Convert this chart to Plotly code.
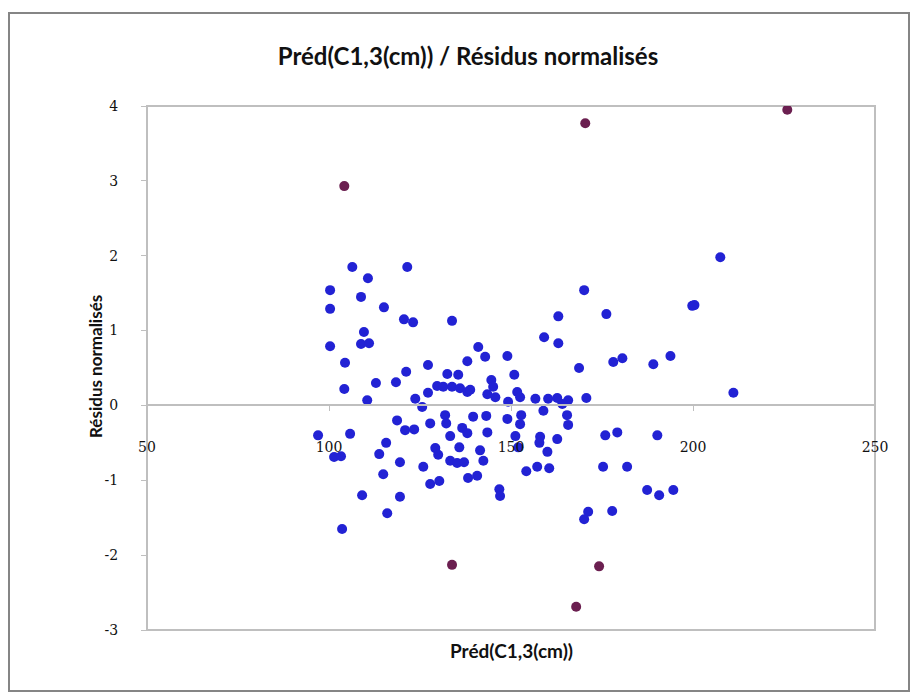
import plotly.graph_objects as go

# Predicted values (cm) and standardized residuals
pred_main = [
    100.3, 100.3, 100.3, 106.4, 104.4, 104.2, 97.0, 105.8, 101.4, 103.3, 103.6,
    110.7, 108.8, 115.1, 109.6, 108.8, 111.0, 112.9, 110.5, 115.7, 113.8, 114.9, 109.1, 116.0,
    121.5, 120.6, 123.1, 118.4, 121.2, 123.7, 125.6, 118.7, 120.9, 123.4, 119.5, 119.5,
    127.2, 127.2, 125.9, 127.8, 127.8,
    133.8, 138.0, 132.5, 135.5, 129.7, 131.4, 133.8, 136.0, 138.0, 131.9, 132.2, 133.3,
    136.6, 138.0, 129.2, 130.0, 133.3, 135.2, 137.1, 130.3, 138.2, 135.8,
    141.0, 142.9, 144.6, 138.8, 145.1, 143.5, 145.7, 139.6, 143.2, 143.5, 141.5, 142.4,
    140.7, 146.8, 147.0,
    149.0, 150.9, 151.7, 152.5, 149.2, 156.7, 149.0, 152.8, 152.5, 151.2, 152.0, 154.2,
    157.2, 158.0, 157.8,
    159.1, 163.0, 163.0, 170.1, 168.7, 160.2, 162.7, 165.7, 170.7, 158.9, 165.4, 165.7,
    162.7, 160.0, 160.5, 171.2, 170.1, 164.1,
    176.2, 178.1, 180.6, 189.1, 193.8, 175.9, 179.2, 190.2, 175.3, 181.9, 187.4, 190.7,
    194.6, 177.8,
    199.8, 200.4, 207.5, 211.1,
]
resid_main = [
    1.54, 1.29, 0.79, 1.85, 0.57, 0.22, -0.40, -0.38, -0.69, -0.68, -1.65,
    1.70, 1.45, 1.31, 0.98, 0.82, 0.83, 0.30, 0.07, -0.50, -0.65, -0.92, -1.20, -1.44,
    1.85, 1.15, 1.11, 0.31, 0.45, 0.09, -0.02, -0.20, -0.33, -0.32, -0.76, -1.22,
    0.54, 0.17, -0.82, -0.24, -1.05,
    1.13, 0.59, 0.42, 0.41, 0.26, 0.25, 0.25, 0.23, 0.18, -0.13, -0.24, -0.41,
    -0.30, -0.37, -0.57, -0.66, -0.74, -0.77, -0.76, -1.01, -0.97, -0.56,
    0.78, 0.65, 0.34, 0.21, 0.25, 0.15, 0.11, -0.15, -0.14, -0.36, -0.60, -0.74,
    -0.94, -1.12, -1.21,
    0.66, 0.41, 0.18, 0.11, 0.05, 0.09, -0.18, -0.13, -0.25, -0.41, -0.56, -0.88,
    -0.82, -0.42, -0.50,
    0.91, 1.19, 0.83, 1.54, 0.50, 0.09, 0.10, 0.07, 0.10, -0.07, -0.13, -0.26,
    -0.45, -0.62, -0.84, -1.42, -1.52, 0.02,
    1.22, 0.58, 0.63, 0.55, 0.66, -0.40, -0.36, -0.40, -0.82, -0.82, -1.13, -1.20,
    -1.13, -1.41,
    1.33, 1.34, 1.98, 0.17,
]

# Observations with |residual| > 2
pred_out = [104.2, 170.4, 225.9, 133.8, 174.2, 167.9]
resid_out = [2.93, 3.77, 3.95, -2.13, -2.15, -2.69]

x_ticks = [50, 100, 150, 200, 250]
y_ticks = [-3, -2, -1, 0, 1, 2, 3, 4]

W, H = 914, 696
ML, MR, MT, MB = 147, 39, 106, 66
PW, PH = W - ML - MR, H - MT - MB


def px_x(p):
    return (p - ML) / PW


def px_y(p):
    return (H - MB - p) / PH


fig = go.Figure()
fig.add_trace(go.Scatter(
    x=pred_main, y=resid_main, mode="markers",
    marker=dict(size=10, color="#2222d4"), showlegend=False,
))
fig.add_trace(go.Scatter(
    x=pred_out, y=resid_out, mode="markers",
    marker=dict(size=10, color="#6b1f50"), showlegend=False,
))

grey = "#bfbfbf"
tick_font = dict(family="DejaVu Serif, Liberation Serif, serif", size=14, color="#111111")
sans = "Lato, Open Sans, sans-serif"

fig.update_layout(
    width=W, height=H,
    margin=dict(l=ML, r=MR, t=MT, b=MB),
    paper_bgcolor="white", plot_bgcolor="white",
    title=dict(
        text="<b>Préd(C1,3(cm)) / Résidus normalisés</b>",
        x=468 / W, y=1 - 57 / H, xanchor="center", yanchor="middle",
        font=dict(family=sans, size=24, color="#111111"),
    ),
    xaxis=dict(
        range=[50, 250], tickvals=x_ticks, ticktext=[str(v) for v in x_ticks],
        anchor="free", position=3 / 7,
        showline=True, linecolor=grey, linewidth=2,
        ticks="outside", ticklen=5, tickcolor=grey, tickwidth=1,
        ticklabelstandoff=24,
        showgrid=False, zeroline=False, tickfont=tick_font,
    ),
    yaxis=dict(
        range=[-3, 4], tickvals=y_ticks, ticktext=[str(v) for v in y_ticks],
        showline=False, ticks="outside", ticklen=5, tickcolor=grey, tickwidth=1,
        ticklabelstandoff=20,
        showgrid=False, zeroline=False, tickfont=tick_font,
    ),
    shapes=[
        # plot area frame
        dict(type="rect", xref="x domain", yref="y domain", x0=0, x1=1, y0=0, y1=1,
             line=dict(color=grey, width=2), layer="below"),
        # chart area border
        dict(type="rect", xref="paper", yref="paper",
             x0=px_x(9), x1=px_x(909), y0=px_y(691), y1=px_y(13),
             line=dict(color="#858585", width=2), layer="below"),
    ],
    annotations=[
        dict(text="<b>Préd(C1,3(cm))</b>", xref="paper", yref="paper",
             x=px_x(511), y=px_y(650), xanchor="center", yanchor="middle",
             showarrow=False, font=dict(family=sans, size=19, color="#111111")),
        dict(text="<b>Résidus normalisés</b>", xref="paper", yref="paper",
             x=px_x(95), y=px_y(367), xanchor="center", yanchor="middle", textangle=-90,
             showarrow=False, font=dict(family=sans, size=17, color="#111111")),
    ],
)

fig.write_html("out.html")
